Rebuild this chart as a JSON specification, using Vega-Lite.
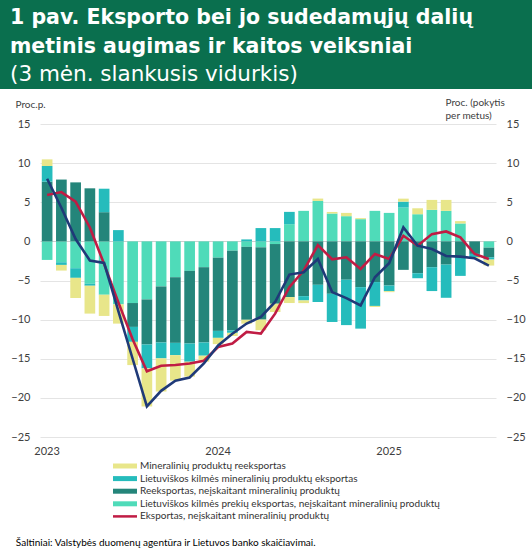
{
  "$schema": "https://vega.github.io/schema/vega-lite/v6.json",
  "padding": 0,
  "background": "white",
  "spacing": 8,
  "config": {"view": {"stroke": null}, "font": "Lato"},
  "datasets": {
    "exports": [
      {"month": "2023-01", "s1_lt_other": -2.37, "s2_reexp_other": 7.63, "s3_lt_mineral": 2.0, "s4_reexp_mineral": 0.85, "total": 8.0, "excl": 5.93},
      {"month": "2023-02", "s1_lt_other": -2.67, "s2_reexp_other": 7.9, "s3_lt_mineral": -0.34, "s4_reexp_mineral": -0.72, "total": 4.3, "excl": 6.3},
      {"month": "2023-03", "s1_lt_other": -3.43, "s2_reexp_other": 7.54, "s3_lt_mineral": -1.23, "s4_reexp_mineral": -2.58, "total": 0.3, "excl": 5.08},
      {"month": "2023-04", "s1_lt_other": -5.42, "s2_reexp_other": 6.78, "s3_lt_mineral": -0.25, "s4_reexp_mineral": -3.56, "total": -2.45, "excl": 1.78},
      {"month": "2023-05", "s1_lt_other": -6.82, "s2_reexp_other": 3.73, "s3_lt_mineral": 3.0, "s4_reexp_mineral": -2.71, "total": -2.75, "excl": -2.9},
      {"month": "2023-06", "s1_lt_other": -8.05, "s2_reexp_other": 0, "s3_lt_mineral": 1.44, "s4_reexp_mineral": -2.46, "total": -8.9, "excl": -7.8},
      {"month": "2023-07", "s1_lt_other": -7.88, "s2_reexp_other": -3.05, "s3_lt_mineral": -1.91, "s4_reexp_mineral": -2.97, "total": -15.0, "excl": -12.5},
      {"month": "2023-08", "s1_lt_other": -7.42, "s2_reexp_other": -5.76, "s3_lt_mineral": -3.05, "s4_reexp_mineral": -4.87, "total": -21.1, "excl": -16.6},
      {"month": "2023-09", "s1_lt_other": -5.76, "s2_reexp_other": -7.16, "s3_lt_mineral": -2.03, "s4_reexp_mineral": -4.24, "total": -19.1, "excl": -15.9},
      {"month": "2023-10", "s1_lt_other": -4.58, "s2_reexp_other": -8.39, "s3_lt_mineral": -1.57, "s4_reexp_mineral": -3.26, "total": -17.8, "excl": -15.8},
      {"month": "2023-11", "s1_lt_other": -3.77, "s2_reexp_other": -9.28, "s3_lt_mineral": -2.33, "s4_reexp_mineral": -1.9, "total": -17.4, "excl": -15.6},
      {"month": "2023-12", "s1_lt_other": -3.3, "s2_reexp_other": -9.62, "s3_lt_mineral": -1.69, "s4_reexp_mineral": -0.76, "total": -15.6, "excl": -15.25},
      {"month": "2024-01", "s1_lt_other": -2.08, "s2_reexp_other": -9.36, "s3_lt_mineral": -0.89, "s4_reexp_mineral": -0.8, "total": -13.3, "excl": -13.5},
      {"month": "2024-02", "s1_lt_other": -1.19, "s2_reexp_other": -10.2, "s3_lt_mineral": -0.3, "s4_reexp_mineral": -0.4, "total": -11.8, "excl": -13.05},
      {"month": "2024-03", "s1_lt_other": -0.7, "s2_reexp_other": -9.32, "s3_lt_mineral": 0.25, "s4_reexp_mineral": -0.5, "total": -10.5, "excl": -11.57},
      {"month": "2024-04", "s1_lt_other": -0.76, "s2_reexp_other": -9.24, "s3_lt_mineral": 1.7, "s4_reexp_mineral": -1.36, "total": -9.66, "excl": -11.78},
      {"month": "2024-05", "s1_lt_other": -0.34, "s2_reexp_other": -7.63, "s3_lt_mineral": 1.7, "s4_reexp_mineral": -1.06, "total": -7.75, "excl": -9.24},
      {"month": "2024-06", "s1_lt_other": 2.2, "s2_reexp_other": -7.12, "s3_lt_mineral": 1.57, "s4_reexp_mineral": -0.76, "total": -4.24, "excl": -5.85},
      {"month": "2024-07", "s1_lt_other": 3.9, "s2_reexp_other": -7.0, "s3_lt_mineral": -0.55, "s4_reexp_mineral": -0.34, "total": -3.94, "excl": -3.73},
      {"month": "2024-08", "s1_lt_other": 5.17, "s2_reexp_other": -5.55, "s3_lt_mineral": -2.2, "s4_reexp_mineral": 0.3, "total": -2.25, "excl": -0.47},
      {"month": "2024-09", "s1_lt_other": 3.56, "s2_reexp_other": -6.7, "s3_lt_mineral": -3.6, "s4_reexp_mineral": 0.2, "total": -6.48, "excl": -2.29},
      {"month": "2024-10", "s1_lt_other": 3.22, "s2_reexp_other": -4.9, "s3_lt_mineral": -5.8, "s4_reexp_mineral": 0.42, "total": -7.25, "excl": -2.03},
      {"month": "2024-11", "s1_lt_other": 2.84, "s2_reexp_other": -5.85, "s3_lt_mineral": -5.3, "s4_reexp_mineral": 0.13, "total": -8.18, "excl": -3.52},
      {"month": "2024-12", "s1_lt_other": 3.9, "s2_reexp_other": -5.2, "s3_lt_mineral": -3.05, "s4_reexp_mineral": -0.13, "total": -4.58, "excl": -1.61},
      {"month": "2025-01", "s1_lt_other": 3.64, "s2_reexp_other": -5.64, "s3_lt_mineral": -0.72, "s4_reexp_mineral": -0.13, "total": -2.8, "excl": -2.25},
      {"month": "2025-02", "s1_lt_other": 4.32, "s2_reexp_other": -3.64, "s3_lt_mineral": 0.76, "s4_reexp_mineral": 0.38, "total": 1.78, "excl": 0.72},
      {"month": "2025-03", "s1_lt_other": 3.47, "s2_reexp_other": -4.07, "s3_lt_mineral": -0.64, "s4_reexp_mineral": 0.76, "total": -0.55, "excl": -0.55},
      {"month": "2025-04", "s1_lt_other": 4.03, "s2_reexp_other": -3.3, "s3_lt_mineral": -3.05, "s4_reexp_mineral": 1.27, "total": -0.97, "excl": 0.93},
      {"month": "2025-05", "s1_lt_other": 3.9, "s2_reexp_other": -2.97, "s3_lt_mineral": -4.24, "s4_reexp_mineral": 1.4, "total": -1.86, "excl": 1.27},
      {"month": "2025-06", "s1_lt_other": 2.29, "s2_reexp_other": -1.95, "s3_lt_mineral": -2.46, "s4_reexp_mineral": 0.3, "total": -1.95, "excl": 0.51},
      {"month": "2025-07", "s1_lt_other": 0, "s2_reexp_other": -1.6, "s3_lt_mineral": -0.4, "s4_reexp_mineral": -0.15, "total": -2.16, "excl": -1.61},
      {"month": "2025-08", "s1_lt_other": -0.8, "s2_reexp_other": -1.23, "s3_lt_mineral": -0.3, "s4_reexp_mineral": -0.76, "total": -3.09, "excl": -2.25}
    ]
  },
  "vconcat": [
    {
      "width": 532,
      "height": 89,
      "view": {"fill": "#0a6f4e", "stroke": null},
      "data": {"values": []},
      "mark": "rect",
      "title": {
        "text": ["1 pav. Eksporto bei jo sudedamųjų dalių", "metinis augimas ir kaitos veiksniai"],
        "subtitle": "(3 mėn. slankusis vidurkis)",
        "orient": "bottom",
        "anchor": "start",
        "frame": "group",
        "offset": -81,
        "dx": 10,
        "font": "DejaVu Sans",
        "fontSize": 20.5,
        "fontWeight": "bold",
        "color": "white",
        "lineHeight": 29,
        "subtitleFont": "DejaVu Sans",
        "subtitleFontSize": 21.5,
        "subtitleFontWeight": "normal",
        "subtitleColor": "white",
        "subtitlePadding": 6
      }
    },
    {
      "spacing": 0,
      "hconcat": [
        {
          "width": 10,
          "height": 10,
          "view": {"fill": "white", "stroke": null},
          "data": {"values": []},
          "mark": "rect"
        },
        {
          "width": 456,
          "height": 313,
          "data": {"name": "exports"},
          "title": {
            "text": "Šaltiniai: Valstybės duomenų agentūra ir Lietuvos banko skaičiavimai.",
            "orient": "bottom",
            "anchor": "start",
            "frame": "bounds",
            "offset": 82,
            "dx": 5,
            "font": "Lato",
            "fontSize": 10,
            "fontWeight": "normal",
            "color": "black"
          },
          "encoding": {
            "x": {
              "field": "month",
              "type": "ordinal",
              "scale": {"paddingInner": 0.25, "paddingOuter": 0.125},
              "axis": {
                "title": null,
                "labelExpr": "substring(datum.value, 5, 7) === '01' ? substring(datum.value, 0, 4) : ''",
                "labelAngle": 0,
                "labelOverlap": false,
                "ticks": false,
                "domain": false,
                "grid": false,
                "labelPadding": 8,
                "labelFont": "Lato",
                "labelFontSize": 11,
                "labelColor": "#404040"
              }
            }
          },
          "layer": [
            {
              "transform": [{"fold": ["s1_lt_other", "s2_reexp_other", "s3_lt_mineral", "s4_reexp_mineral"], "as": ["series", "value"]}],
              "mark": {"type": "bar"},
              "encoding": {
                "y": {
                  "field": "value",
                  "type": "quantitative",
                  "stack": "zero",
                  "scale": {"domain": [-25, 15], "nice": false},
                  "axis": {
                    "values": [-25, -20, -15, -10, -5, 0, 5, 10, 15],
                    "grid": true,
                    "gridColor": {"condition": {"test": "datum.value === 0", "value": "#cfcfcf"}, "value": "#e4e4e4"},
                    "domain": false,
                    "ticks": false,
                    "labelPadding": 10,
                    "labelFont": "Lato",
                    "labelFontSize": 11,
                    "labelColor": "#404040",
                    "title": "Proc.p.",
                    "titleAngle": 0,
                    "titleAlign": "left",
                    "titleBaseline": "top",
                    "titleX": -25,
                    "titleY": -25,
                    "titleFont": "Lato",
                    "titleFontSize": 10,
                    "titleFontWeight": "normal",
                    "titleColor": "#404040"
                  }
                },
                "color": {
                  "field": "series",
                  "type": "nominal",
                  "scale": {
                    "domain": ["s4_reexp_mineral", "s3_lt_mineral", "s2_reexp_other", "s1_lt_other", "red_line"],
                    "range": ["#e8e68a", "#25bcbc", "#24857a", "#4fdbb9", "#c01c44"]
                  },
                  "legend": {
                    "orient": "none",
                    "legendX": 120,
                    "legendY": 461,
                    "direction": "vertical",
                    "title": null,
                    "padding": 0,
                    "symbolType": "M-2.4,-0.5H2.4V0.5H-2.4Z",
                    "symbolSize": 100,
                    "symbolStrokeWidth": 0,
                    "symbolOpacity": 1,
                    "labelFont": "Lato",
                    "labelFontSize": 10,
                    "labelColor": "#333333",
                    "labelOffset": 10,
                    "labelLimit": 420,
                    "rowPadding": 2.6,
                    "labelExpr": "datum.value === 's4_reexp_mineral' ? 'Mineralinių produktų reeksportas' : datum.value === 's3_lt_mineral' ? 'Lietuviškos kilmės mineralinių produktų eksportas' : datum.value === 's2_reexp_other' ? 'Reeksportas, neįskaitant mineralinių produktų' : datum.value === 's1_lt_other' ? 'Lietuviškos kilmės prekių eksportas, neįskaitant mineralinių produktų' : 'Eksportas, neįskaitant mineralinių produktų'",
                    "encode": {
                      "symbols": {
                        "update": {
                          "shape": {"signal": "datum.value === 'red_line' ? 'M-2.4,-0.25H2.4V0.25H-2.4Z' : 'M-2.4,-0.5H2.4V0.5H-2.4Z'"}
                        }
                      }
                    }
                  }
                },
                "order": {"field": "series", "type": "nominal", "sort": "ascending"}
              }
            },
            {
              "mark": {"type": "line", "color": "#c01c44", "strokeWidth": 2.6},
              "encoding": {
                "y": {
                  "field": "excl",
                  "type": "quantitative",
                  "scale": {"domain": [-25, 15], "nice": false},
                  "axis": {
                    "orient": "right",
                    "values": [-25, -20, -15, -10, -5, 0, 5, 10, 15],
                    "grid": false,
                    "domain": false,
                    "ticks": false,
                    "labelPadding": 10,
                    "labelFont": "Lato",
                    "labelFontSize": 11,
                    "labelColor": "#404040",
                    "title": ["Proc. (pokytis", "per metus)"],
                    "titleAngle": 0,
                    "titleAlign": "left",
                    "titleBaseline": "top",
                    "titleX": -51,
                    "titleY": -27,
                    "titleLineHeight": 13,
                    "titleFont": "Lato",
                    "titleFontSize": 10,
                    "titleFontWeight": "normal",
                    "titleColor": "#404040"
                  }
                }
              }
            },
            {
              "mark": {"type": "line", "color": "#1f3a78", "strokeWidth": 2.6},
              "encoding": {
                "y": {
                  "field": "total",
                  "type": "quantitative",
                  "scale": {"domain": [-25, 15], "nice": false},
                  "axis": null
                }
              }
            }
          ],
          "resolve": {"axis": {"y": "independent"}}
        }
      ]
    }
  ]
}
